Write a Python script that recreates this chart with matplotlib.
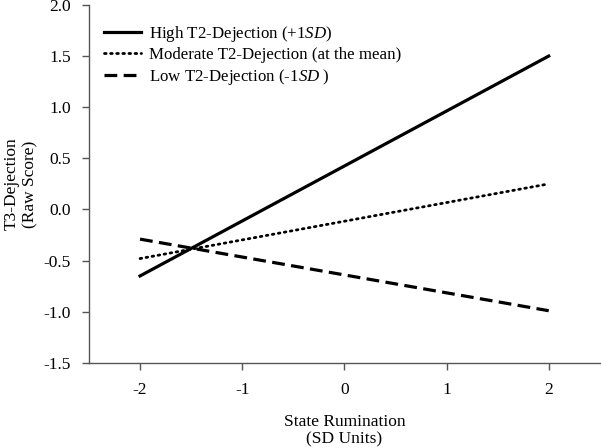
import matplotlib
matplotlib.use("Agg")
import matplotlib.pyplot as plt

x = [-2, 2]
high = [-0.65, 1.50]
moderate = [-0.48, 0.25]
low = [-0.29, -0.99]
labels = ["High T2-Dejection (+1$\\mathit{SD}$)",
          "Moderate T2-Dejection (at the mean)",
          "Low T2-Dejection (-1$\\mathit{SD}$ )"]
xticks = [-2, -1, 0, 1, 2]
yticks = [-1.5, -1.0, -0.5, 0.0, 0.5, 1.0, 1.5, 2.0]

plt.rcParams['font.family'] = ['Liberation Serif', 'DejaVu Serif']
plt.rcParams['mathtext.fontset'] = 'custom'
plt.rcParams['mathtext.it'] = 'Liberation Serif:italic'
plt.rcParams['mathtext.rm'] = 'Liberation Serif'

fig = plt.figure(figsize=(6.01, 4.48), dpi=100)
ax = fig.add_axes([0.148, 0.19, 0.85, 0.799])

ax.plot(x, high, color='black', lw=2.3, linestyle='-', label=labels[0])
ax.plot(x, moderate, color='black', lw=2.0, linestyle=(0, (0.6, 1.6)), dash_capstyle='round', label=labels[1])
ax.plot(x, low, color='black', lw=2.3, linestyle=(0, (4, 2)), label=labels[2])

ax.set_xlim(-2.5, 2.5)
ax.set_ylim(-1.5, 2.0)
ax.set_xticks(xticks)
ax.set_xticklabels([str(t) for t in xticks])
ax.set_yticks(yticks)
ax.set_yticklabels([f"{t:.1f}" for t in yticks])
for s in ['top', 'right']:
    ax.spines[s].set_visible(False)
for s in ['left', 'bottom']:
    ax.spines[s].set_color('#555555')
    ax.spines[s].set_linewidth(1.0)
ax.tick_params(direction='out', length=5, width=1.0, color='#555555', labelsize=12.5)
ax.tick_params(axis='x', pad=9)
ax.tick_params(axis='y', pad=8)

ax.set_xlabel("State Rumination\n(SD Units)", fontsize=12.5, linespacing=1.15)
ax.xaxis.set_label_coords(0.5, -0.143, transform=ax.transAxes)
ax.xaxis.label.set_va('top')
ax.set_ylabel("T3-Dejection\n(Raw Score)", fontsize=12.5, linespacing=1.15)
ax.yaxis.label.set_va('center')
ax.yaxis.set_label_coords(-0.133, 0.5, transform=ax.transAxes)

leg = ax.legend(loc='upper left', bbox_to_anchor=(0.0, 0.99), frameon=False, fontsize=12.2,
                handlelength=2.2, handletextpad=0.45, labelspacing=0.2, borderaxespad=0.5)

fig.savefig("out.png", dpi=100)
